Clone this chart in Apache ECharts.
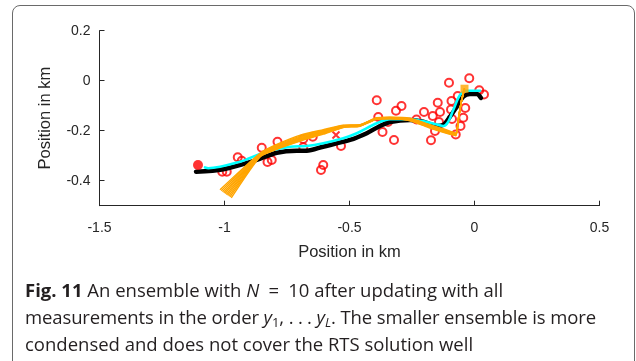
<!DOCTYPE html>
<html>
<head>
<meta charset="utf-8">
<title>Fig. 11</title>
<script src="https://cdn.jsdelivr.net/npm/echarts@6/dist/echarts.min.js"></script>
<style>
  html, body { margin: 0; padding: 0; background: #fff; }
  body { width: 636px; height: 361px; overflow: hidden; position: relative; }
  #frame {
    position: absolute; left: 12px; top: 5px; width: 621px; height: 420px;
    border: 1px solid #6a6a6a; border-radius: 8px; box-sizing: content-box;
  }
  #chart { position: absolute; left: 0; top: 0; width: 636px; height: 361px; }
  #caption {
    position: absolute; left: 25px; top: 276px; width: 605px;
    font-family: "Open Sans", "Noto Sans", sans-serif; font-size: 18.5px;
    line-height: 27px; color: #231f20; white-space: nowrap;
  }
  #caption b { font-weight: 700; }
  #caption sub { font-size: 0.7em; line-height: 0; vertical-align: -0.25em; }
  #caption .tight { letter-spacing: -0.12px; }
</style>
</head>
<body>
<div id="frame"></div>
<div id="chart"></div>
<div id="caption"><b>Fig. 11</b> An ensemble with <i>N</i>&ensp;=&ensp;10 after updating with all<br><span class="tight">measurements in the order <i>y</i><sub>1</sub>, .&#8197;.&#8197;. <i>y</i><sub><i>L</i></sub>. The smaller ensemble is more</span><br>condensed and does not cover the RTS solution well</div>
<script>
// Axis ticks
const xTicks = [-1.5, -1, -0.5, 0, 0.5];
const yTicks = [-0.4, -0.2, 0, 0.2];

// Position measurements (km)
const measX = [-1.009, -0.991, -0.947, -0.931, -0.851, -0.828, -0.811, -0.788, -0.685, -0.685,
  -0.647, -0.614, -0.605, -0.534, -0.391, -0.385, -0.368, -0.346, -0.322, -0.314,
  -0.292, -0.232, -0.202, -0.174, -0.167, -0.158, -0.147, -0.138, -0.142, -0.102,
  -0.092, -0.094, -0.090, -0.075, -0.056, -0.045, -0.037, -0.067, -0.021, 0.019, 0.038];
const measY = [-0.364, -0.364, -0.306, -0.320, -0.268, -0.325, -0.317, -0.244, -0.233, -0.266,
  -0.224, -0.357, -0.337, -0.261, -0.078, -0.145, -0.205, -0.165, -0.237, -0.120,
  -0.101, -0.155, -0.125, -0.238, -0.141, -0.201, -0.088, -0.125, -0.165, -0.008,
  -0.081, -0.115, -0.153, -0.215, -0.181, -0.148, -0.109, -0.061, 0.010, -0.038, -0.055];

// Single measurement drawn with a cross
const crossX = [-0.554];
const crossY = [-0.217];

// Initial position
const startX = [-1.106];
const startY = [-0.337];

// RTS smoother solution
const rtsX = [-1.114, -1.005, -0.871, -0.791, -0.711, -0.671, -0.606, -0.498, -0.431, -0.378,
  -0.338, -0.258, -0.205, -0.151, -0.125, -0.098, -0.071, -0.045, -0.018, 0.009, 0.026];
const rtsY = [-0.364, -0.354, -0.317, -0.288, -0.280, -0.280, -0.264, -0.237, -0.210, -0.181,
  -0.165, -0.157, -0.164, -0.181, -0.177, -0.144, -0.104, -0.064, -0.053, -0.053, -0.069];

// Large-ensemble mean
const meanX = [-1.078, -1.065, -0.938, -0.845, -0.738, -0.671, -0.605, -0.525, -0.471, -0.391,
  -0.338, -0.258, -0.178, -0.125, -0.105, -0.085, -0.058, -0.031, 0.022];
const meanY = [-0.347, -0.350, -0.324, -0.288, -0.264, -0.261, -0.250, -0.230, -0.210, -0.170,
  -0.154, -0.154, -0.168, -0.181, -0.164, -0.117, -0.057, -0.040, -0.040];

// Ensemble members (N = 10): individual start points, shared positions afterwards
const ensStartX = [-1.018, -1.013, -1.008, -1.003, -0.998, -0.993, -0.988, -0.983, -0.978, -0.973];
const ensStartY = [-0.436, -0.440, -0.444, -0.448, -0.451, -0.455, -0.458, -0.462, -0.465, -0.469];
const ensTailX = [-0.858, -0.791, -0.685, -0.605, -0.525, -0.458, -0.391, -0.338, -0.258, -0.178,
  -0.125, -0.075, -0.064, -0.052, -0.040];
const ens1  = [-0.290, -0.255, -0.214, -0.196, -0.178, -0.176, -0.148, -0.146, -0.150, -0.176, -0.192, -0.209, -0.147, -0.078, -0.030];
const ens2  = [-0.292, -0.258, -0.218, -0.199, -0.179, -0.177, -0.149, -0.147, -0.152, -0.178, -0.194, -0.211, -0.148, -0.079, -0.031];
const ens3  = [-0.294, -0.261, -0.222, -0.201, -0.180, -0.177, -0.150, -0.147, -0.153, -0.180, -0.196, -0.212, -0.149, -0.079, -0.031];
const ens4  = [-0.296, -0.263, -0.225, -0.203, -0.181, -0.178, -0.151, -0.148, -0.154, -0.181, -0.197, -0.213, -0.150, -0.080, -0.032];
const ens5  = [-0.297, -0.265, -0.228, -0.205, -0.182, -0.179, -0.151, -0.149, -0.155, -0.182, -0.198, -0.214, -0.150, -0.080, -0.032];
const ens6  = [-0.299, -0.267, -0.230, -0.207, -0.183, -0.179, -0.152, -0.149, -0.156, -0.183, -0.199, -0.215, -0.151, -0.081, -0.033];
const ens7  = [-0.300, -0.269, -0.232, -0.209, -0.184, -0.180, -0.152, -0.150, -0.157, -0.185, -0.201, -0.216, -0.152, -0.081, -0.033];
const ens8  = [-0.302, -0.271, -0.234, -0.210, -0.185, -0.181, -0.153, -0.151, -0.158, -0.186, -0.203, -0.217, -0.152, -0.082, -0.034];
const ens9  = [-0.303, -0.273, -0.236, -0.212, -0.186, -0.181, -0.153, -0.151, -0.159, -0.188, -0.205, -0.218, -0.153, -0.082, -0.034];
const ens10 = [-0.305, -0.275, -0.238, -0.214, -0.187, -0.182, -0.154, -0.152, -0.160, -0.190, -0.207, -0.220, -0.154, -0.083, -0.035];
const ensembleY = [ens1, ens2, ens3, ens4, ens5, ens6, ens7, ens8, ens9, ens10];

const zip = (xs, ys) => xs.map((x, i) => [x, ys[i]]);

const AXIS_COLOR = '#262626';
const series = [];

series.push({
  type: 'scatter', z: 2, silent: true,
  data: zip(measX, measY),
  symbol: 'circle', symbolSize: 8,
  itemStyle: { color: 'rgba(0,0,0,0)', borderColor: '#ff0000', borderWidth: 2 }
});
series.push({
  type: 'scatter', z: 2, silent: true,
  data: zip(crossX, crossY),
  symbol: 'path://M0,0L10,10M10,0L0,10', symbolSize: 7,
  itemStyle: { color: 'rgba(0,0,0,0)', borderColor: '#ff0000', borderWidth: 2 }
});
series.push({
  type: 'line', z: 3, silent: true, showSymbol: false, smooth: 0.3,
  data: zip(rtsX, rtsY),
  lineStyle: { color: '#000000', width: 4.5, cap: 'round' }
});
series.push({
  type: 'line', z: 4, silent: true, showSymbol: false, smooth: 0.3,
  data: zip(meanX, meanY),
  lineStyle: { color: '#00ffff', width: 2.6, cap: 'round' }
});
ensembleY.forEach((ys, k) => {
  const pts = [[ensStartX[k], ensStartY[k]]].concat(zip(ensTailX, ys));
  series.push({
    type: 'line', z: 5, silent: true, showSymbol: false, smooth: 0.2,
    data: pts,
    lineStyle: { color: '#ffa500', width: 1.4 }
  });
});
// Final ensemble position
series.push({
  type: 'scatter', z: 6, silent: true,
  data: [[ensTailX[ensTailX.length - 1], ens5[ens5.length - 1]]],
  symbol: 'rect', symbolSize: 8,
  itemStyle: { color: '#ffa500' }
});
series.push({
  type: 'scatter', z: 6, silent: true,
  data: zip(startX, startY),
  symbol: 'circle', symbolSize: 10,
  itemStyle: { color: '#ff0000' }
});

const chart = echarts.init(document.getElementById('chart'), null, { renderer: 'canvas' });
chart.setOption({
  animation: false,
  backgroundColor: 'transparent',
  grid: { left: 99.5, right: 36.5, top: 30.7, bottom: 155.3, containLabel: false },
  xAxis: {
    type: 'value', min: -1.5, max: 0.5,
    name: 'Position in km', nameLocation: 'middle', nameGap: 47,
    nameTextStyle: { fontFamily: 'Liberation Sans', fontSize: 16.5, color: AXIS_COLOR, verticalAlign: 'middle' },
    axisLine: { show: true, onZero: false, lineStyle: { color: AXIS_COLOR, width: 1 } },
    axisTick: { show: true, inside: true, length: 5, customValues: xTicks, lineStyle: { color: AXIS_COLOR } },
    axisLabel: {
      customValues: xTicks, margin: 15, fontFamily: 'Liberation Sans', fontSize: 14, color: AXIS_COLOR,
      formatter: v => String(v)
    },
    splitLine: { show: false }
  },
  yAxis: {
    type: 'value', min: -0.5, max: 0.2,
    name: 'Position in km', nameLocation: 'middle', nameGap: 54,
    nameTextStyle: { fontFamily: 'Liberation Sans', fontSize: 16.5, color: AXIS_COLOR, verticalAlign: 'middle' },
    axisLine: { show: true, onZero: false, lineStyle: { color: AXIS_COLOR, width: 1 } },
    axisTick: { show: true, inside: true, length: 5, customValues: yTicks, lineStyle: { color: AXIS_COLOR } },
    axisLabel: {
      customValues: yTicks, margin: 9, fontFamily: 'Liberation Sans', fontSize: 14, color: AXIS_COLOR,
      formatter: v => String(v)
    },
    splitLine: { show: false }
  },
  series: series
});
</script>
</body>
</html>
